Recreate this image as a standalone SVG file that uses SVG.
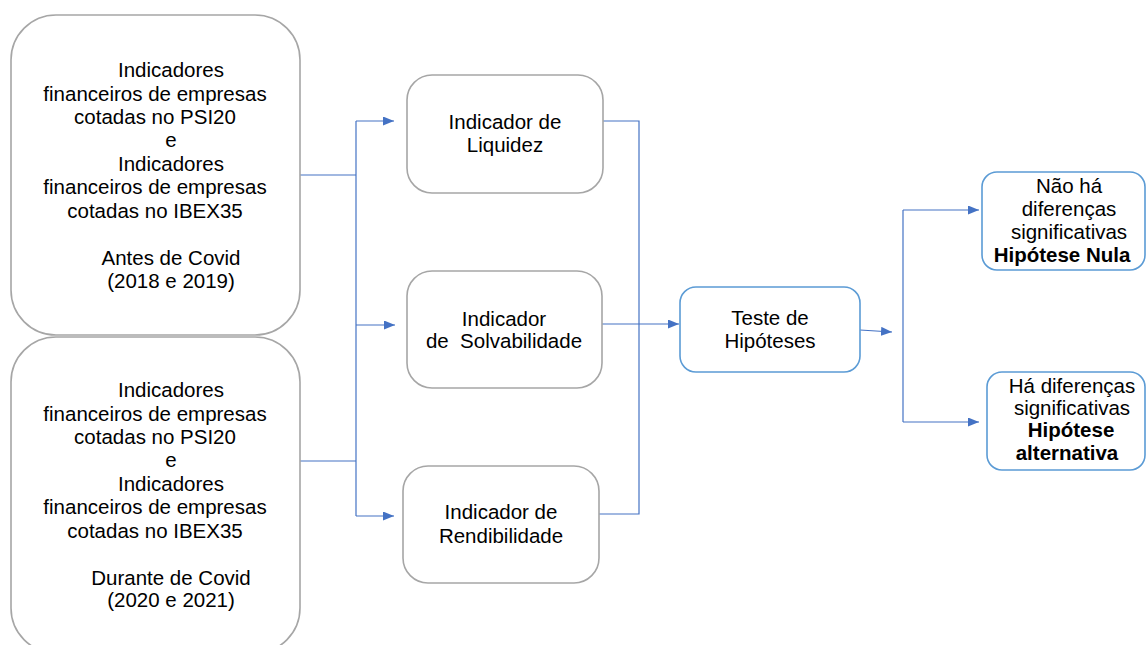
<svg xmlns="http://www.w3.org/2000/svg" width="1146" height="645" viewBox="0 0 1146 645">
<style>
.g{fill:#fff;stroke:#a6a6a6;stroke-width:1.6}
.b{fill:#fff;stroke:#5b9bd5;stroke-width:1.6}
.t{font-family:"Liberation Sans",Arial,sans-serif;font-size:20.5px;fill:#000;text-anchor:middle}
.bold{font-weight:bold}
.c{fill:none;stroke:#4472c4;stroke-width:1.2}
</style>
<defs>
<marker id="ah" markerWidth="11" markerHeight="9" refX="11" refY="4.5" orient="auto" markerUnits="userSpaceOnUse">
<path d="M0,0 L11,4.5 L0,9 Z" fill="#4472c4"/>
</marker>
</defs>
<rect width="1146" height="645" fill="#fff"/>
<g id="connectors">
<path class="c" d="M300,175 H356"/>
<path class="c" d="M300,461 H356"/>
<path class="c" d="M356,121 V516"/>
<path class="c" d="M356,121 H394" marker-end="url(#ah)"/>
<path class="c" d="M356,325 H395" marker-end="url(#ah)"/>
<path class="c" d="M356,516 H394" marker-end="url(#ah)"/>
<path class="c" d="M603,121 H639 V514 H599"/>
<path class="c" d="M602,324 H679" marker-end="url(#ah)"/>
<path class="c" d="M860,330 L892,332" marker-end="url(#ah)"/>
<path class="c" d="M903,210 V422"/>
<path class="c" d="M903,210 H979" marker-end="url(#ah)"/>
<path class="c" d="M903,422 H979" marker-end="url(#ah)"/>
</g>
<g id="box-antes">
<rect class="g" x="11" y="15" width="289" height="320" rx="45"/>
<text class="t" x="171" y="77">Indicadores</text>
<text class="t" x="155" y="100.5">financeiros de empresas</text>
<text class="t" x="155" y="124">cotadas no PSI20</text>
<text class="t" x="171" y="147">e</text>
<text class="t" x="171" y="171">Indicadores</text>
<text class="t" x="155" y="194">financeiros de empresas</text>
<text class="t" x="155" y="218">cotadas no IBEX35</text>
<text class="t" x="171" y="265">Antes de Covid</text>
<text class="t" x="171" y="288">(2018 e 2019)</text>
</g>
<g id="box-durante">
<rect class="g" x="11" y="337" width="289" height="316" rx="45"/>
<text class="t" x="171" y="397">Indicadores</text>
<text class="t" x="155" y="420.5">financeiros de empresas</text>
<text class="t" x="155" y="444">cotadas no PSI20</text>
<text class="t" x="171" y="467">e</text>
<text class="t" x="171" y="491">Indicadores</text>
<text class="t" x="155" y="514">financeiros de empresas</text>
<text class="t" x="155" y="538">cotadas no IBEX35</text>
<text class="t" x="171" y="585">Durante de Covid</text>
<text class="t" x="171" y="607">(2020 e 2021)</text>
</g>
<g id="box-liquidez">
<rect class="g" x="407" y="75" width="196" height="118" rx="25"/>
<text class="t" x="505" y="129">Indicador de</text>
<text class="t" x="505" y="152">Liquidez</text>
</g>
<g id="box-solvabilidade">
<rect class="g" x="407" y="271" width="195" height="117" rx="25"/>
<text class="t" x="504" y="326">Indicador</text>
<text class="t" x="504" y="348" xml:space="preserve">de  Solvabilidade</text>
</g>
<g id="box-rendibilidade">
<rect class="g" x="403" y="466" width="196" height="117" rx="25"/>
<text class="t" x="501" y="519">Indicador de</text>
<text class="t" x="501" y="543">Rendibilidade</text>
</g>
<g id="box-teste">
<rect class="b" x="680" y="287" width="180" height="85" rx="16"/>
<text class="t" x="770" y="325">Teste de</text>
<text class="t" x="770" y="348">Hipóteses</text>
</g>
<g id="box-nula">
<rect class="b" x="982" y="172" width="163" height="98" rx="15"/>
<text class="t" x="1069" y="193">Não há</text>
<text class="t" x="1069" y="216">diferenças</text>
<text class="t" x="1069" y="239">significativas</text>
<text class="t bold" x="1062" y="262">Hipótese Nula</text>
</g>
<g id="box-alternativa">
<rect class="b" x="987" y="372" width="158" height="98" rx="15"/>
<text class="t" x="1072" y="393">Há diferenças</text>
<text class="t" x="1072" y="415">significativas</text>
<text class="t bold" x="1071" y="437">Hipótese</text>
<text class="t bold" x="1067" y="460">alternativa</text>
</g>
</svg>
